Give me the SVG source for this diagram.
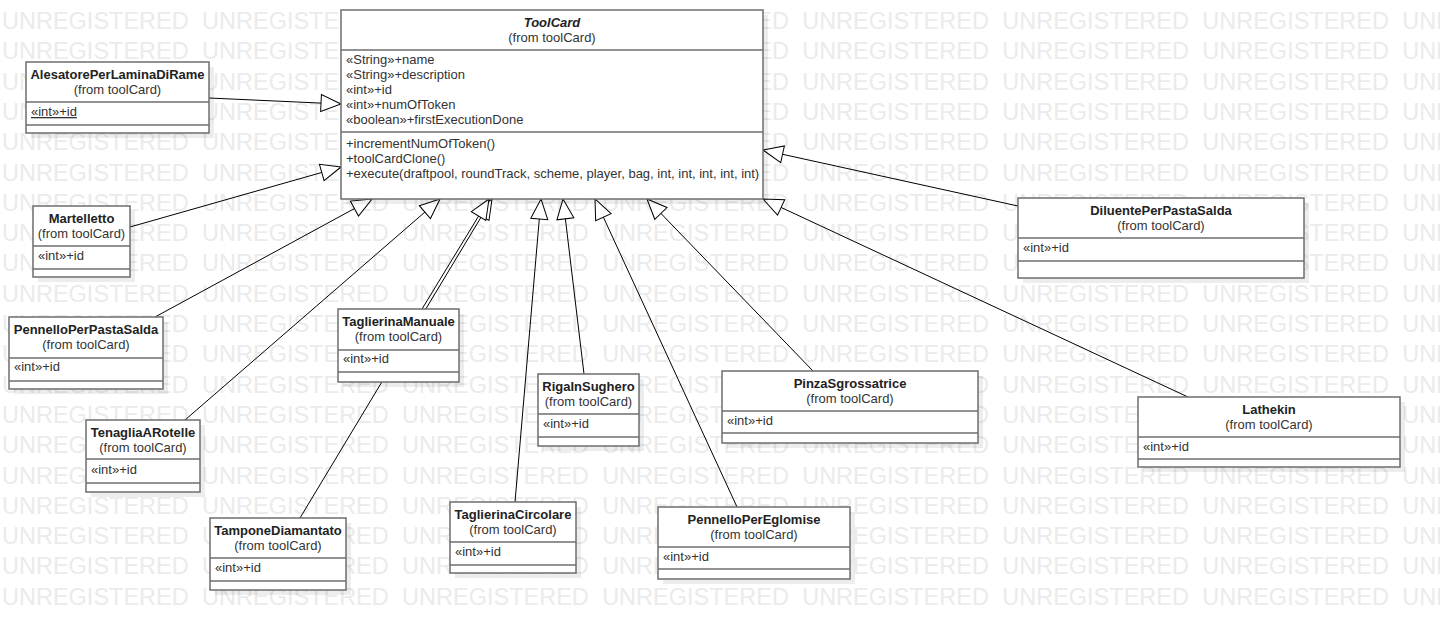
<svg xmlns="http://www.w3.org/2000/svg" width="1440" height="630" viewBox="0 0 1440 630">
<style>
.wm{font-family:"Liberation Sans",Arial,sans-serif;font-size:23.5px;fill:#ebebeb;word-spacing:6.8px}
.box{fill:#fff;stroke:#6e6e6e;stroke-width:1.5}
.sh{fill:#000;fill-opacity:0.07}
.dv{stroke:#6e6e6e;stroke-width:1.5}
.nm{font-family:"Liberation Sans",Arial,sans-serif;font-size:13px;font-weight:bold;fill:#222;text-anchor:middle}
.fr{font-family:"Liberation Sans",Arial,sans-serif;font-size:13px;fill:#333;text-anchor:middle}
.at{font-family:"Liberation Sans",Arial,sans-serif;font-size:13px;fill:#333}
.cn{stroke:#000;stroke-width:1;fill:none;marker-end:url(#gen)}
</style>
<defs>
<marker id="gen" markerUnits="userSpaceOnUse" viewBox="-22 -10 24 20" refX="0" refY="0" markerWidth="24" markerHeight="20" orient="auto">
<path d="M0,0 L-20,-8.5 L-20,8.5 Z" fill="#fff" stroke="#000" stroke-width="1"/>
</marker>
</defs>
<rect width="1440" height="630" fill="#fff"/>
<g id="watermark" class="wm">
<text x="2" y="29">UNREGISTERED UNREGISTERED UNREGISTERED UNREGISTERED UNREGISTERED UNREGISTERED UNREGISTERED UNREGISTERED</text>
<text x="2" y="59.3">UNREGISTERED UNREGISTERED UNREGISTERED UNREGISTERED UNREGISTERED UNREGISTERED UNREGISTERED UNREGISTERED</text>
<text x="2" y="89.6">UNREGISTERED UNREGISTERED UNREGISTERED UNREGISTERED UNREGISTERED UNREGISTERED UNREGISTERED UNREGISTERED</text>
<text x="2" y="119.9">UNREGISTERED UNREGISTERED UNREGISTERED UNREGISTERED UNREGISTERED UNREGISTERED UNREGISTERED UNREGISTERED</text>
<text x="2" y="150.2">UNREGISTERED UNREGISTERED UNREGISTERED UNREGISTERED UNREGISTERED UNREGISTERED UNREGISTERED UNREGISTERED</text>
<text x="2" y="180.5">UNREGISTERED UNREGISTERED UNREGISTERED UNREGISTERED UNREGISTERED UNREGISTERED UNREGISTERED UNREGISTERED</text>
<text x="2" y="210.8">UNREGISTERED UNREGISTERED UNREGISTERED UNREGISTERED UNREGISTERED UNREGISTERED UNREGISTERED UNREGISTERED</text>
<text x="2" y="241.1">UNREGISTERED UNREGISTERED UNREGISTERED UNREGISTERED UNREGISTERED UNREGISTERED UNREGISTERED UNREGISTERED</text>
<text x="2" y="271.4">UNREGISTERED UNREGISTERED UNREGISTERED UNREGISTERED UNREGISTERED UNREGISTERED UNREGISTERED UNREGISTERED</text>
<text x="2" y="301.7">UNREGISTERED UNREGISTERED UNREGISTERED UNREGISTERED UNREGISTERED UNREGISTERED UNREGISTERED UNREGISTERED</text>
<text x="2" y="332">UNREGISTERED UNREGISTERED UNREGISTERED UNREGISTERED UNREGISTERED UNREGISTERED UNREGISTERED UNREGISTERED</text>
<text x="2" y="362.3">UNREGISTERED UNREGISTERED UNREGISTERED UNREGISTERED UNREGISTERED UNREGISTERED UNREGISTERED UNREGISTERED</text>
<text x="2" y="392.6">UNREGISTERED UNREGISTERED UNREGISTERED UNREGISTERED UNREGISTERED UNREGISTERED UNREGISTERED UNREGISTERED</text>
<text x="2" y="422.9">UNREGISTERED UNREGISTERED UNREGISTERED UNREGISTERED UNREGISTERED UNREGISTERED UNREGISTERED UNREGISTERED</text>
<text x="2" y="453.2">UNREGISTERED UNREGISTERED UNREGISTERED UNREGISTERED UNREGISTERED UNREGISTERED UNREGISTERED UNREGISTERED</text>
<text x="2" y="483.5">UNREGISTERED UNREGISTERED UNREGISTERED UNREGISTERED UNREGISTERED UNREGISTERED UNREGISTERED UNREGISTERED</text>
<text x="2" y="513.8">UNREGISTERED UNREGISTERED UNREGISTERED UNREGISTERED UNREGISTERED UNREGISTERED UNREGISTERED UNREGISTERED</text>
<text x="2" y="544.1">UNREGISTERED UNREGISTERED UNREGISTERED UNREGISTERED UNREGISTERED UNREGISTERED UNREGISTERED UNREGISTERED</text>
<text x="2" y="574.4">UNREGISTERED UNREGISTERED UNREGISTERED UNREGISTERED UNREGISTERED UNREGISTERED UNREGISTERED UNREGISTERED</text>
<text x="2" y="604.7">UNREGISTERED UNREGISTERED UNREGISTERED UNREGISTERED UNREGISTERED UNREGISTERED UNREGISTERED UNREGISTERED</text>
</g>
<g id="connectors">
<line class="cn" x1="209" y1="98" x2="341" y2="104"/>
<line class="cn" x1="130" y1="227" x2="341" y2="167"/>
<line class="cn" x1="155" y1="317" x2="372" y2="199"/>
<line class="cn" x1="185" y1="420" x2="440" y2="199"/>
<line class="cn" x1="300" y1="518" x2="492" y2="199"/>
<line class="cn" x1="422" y1="309" x2="489" y2="199"/>
<line class="cn" x1="515" y1="502" x2="541" y2="199"/>
<line class="cn" x1="584" y1="374" x2="563" y2="199"/>
<line class="cn" x1="737" y1="507" x2="595" y2="199"/>
<line class="cn" x1="813" y1="371" x2="647" y2="199"/>
<line class="cn" x1="1188" y1="397" x2="763" y2="199"/>
<line class="cn" x1="1018" y1="206" x2="763" y2="150"/>
</g>
<g id="ToolCard">
<rect class="sh" x="346" y="15" width="422" height="189"/>
<rect class="box" x="341" y="10" width="422" height="189"/>
<line class="dv" x1="341" y1="50" x2="763" y2="50"/>
<line class="dv" x1="341" y1="132" x2="763" y2="132"/>
<text class="nm" x="552" y="27" font-style="italic">ToolCard</text>
<text class="fr" x="552" y="42">(from toolCard)</text>
<text class="at" x="346" y="64">«String»+name</text>
<text class="at" x="346" y="79">«String»+description</text>
<text class="at" x="346" y="94">«int»+id</text>
<text class="at" x="346" y="109">«int»+numOfToken</text>
<text class="at" x="346" y="124">«boolean»+firstExecutionDone</text>
<text class="at" x="346" y="148">+incrementNumOfToken()</text>
<text class="at" x="346" y="163">+toolCardClone()</text>
<text class="at" x="346" y="178">+execute(draftpool, roundTrack, scheme, player, bag, int, int, int, int, int)</text>
</g>
<g id="AlesatorePerLaminaDiRame">
<rect class="sh" x="31" y="67" width="183" height="71"/>
<rect class="box" x="26" y="62" width="183" height="71"/>
<line class="dv" x1="26" y1="102" x2="209" y2="102"/>
<line class="dv" x1="26" y1="125" x2="209" y2="125"/>
<text class="nm" x="117.5" y="79">AlesatorePerLaminaDiRame</text>
<text class="fr" x="117.5" y="94">(from toolCard)</text>
<text class="at" x="31" y="116" text-decoration="underline">«int»+id</text>
</g>
<g id="Martelletto">
<rect class="sh" x="38" y="211" width="97" height="71"/>
<rect class="box" x="33" y="206" width="97" height="71"/>
<line class="dv" x1="33" y1="246" x2="130" y2="246"/>
<line class="dv" x1="33" y1="269" x2="130" y2="269"/>
<text class="nm" x="81.5" y="223">Martelletto</text>
<text class="fr" x="81.5" y="238">(from toolCard)</text>
<text class="at" x="38" y="260">«int»+id</text>
</g>
<g id="PennelloPerPastaSalda">
<rect class="sh" x="14" y="322" width="154" height="72"/>
<rect class="box" x="9" y="317" width="154" height="72"/>
<line class="dv" x1="9" y1="358" x2="163" y2="358"/>
<line class="dv" x1="9" y1="381" x2="163" y2="381"/>
<text class="nm" x="86" y="334">PennelloPerPastaSalda</text>
<text class="fr" x="86" y="349">(from toolCard)</text>
<text class="at" x="14" y="371">«int»+id</text>
</g>
<g id="TenagliaARotelle">
<rect class="sh" x="91" y="425" width="114" height="72"/>
<rect class="box" x="86" y="420" width="114" height="72"/>
<line class="dv" x1="86" y1="459" x2="200" y2="459"/>
<line class="dv" x1="86" y1="483" x2="200" y2="483"/>
<text class="nm" x="143" y="437">TenagliaARotelle</text>
<text class="fr" x="143" y="452">(from toolCard)</text>
<text class="at" x="91" y="474">«int»+id</text>
</g>
<g id="TaglierinaManuale">
<rect class="sh" x="343" y="314" width="121" height="73"/>
<rect class="box" x="338" y="309" width="121" height="73"/>
<line class="dv" x1="338" y1="350" x2="459" y2="350"/>
<line class="dv" x1="338" y1="372" x2="459" y2="372"/>
<text class="nm" x="398.5" y="326">TaglierinaManuale</text>
<text class="fr" x="398.5" y="341">(from toolCard)</text>
<text class="at" x="343" y="363">«int»+id</text>
</g>
<g id="TamponeDiamantato">
<rect class="sh" x="215" y="523" width="136" height="72"/>
<rect class="box" x="210" y="518" width="136" height="72"/>
<line class="dv" x1="210" y1="558" x2="346" y2="558"/>
<line class="dv" x1="210" y1="581" x2="346" y2="581"/>
<text class="nm" x="278" y="535">TamponeDiamantato</text>
<text class="fr" x="278" y="550">(from toolCard)</text>
<text class="at" x="215" y="572">«int»+id</text>
</g>
<g id="TaglierinaCircolare">
<rect class="sh" x="455" y="507" width="126" height="71"/>
<rect class="box" x="450" y="502" width="126" height="71"/>
<line class="dv" x1="450" y1="542" x2="576" y2="542"/>
<line class="dv" x1="450" y1="565" x2="576" y2="565"/>
<text class="nm" x="513" y="519">TaglierinaCircolare</text>
<text class="fr" x="513" y="534">(from toolCard)</text>
<text class="at" x="455" y="556">«int»+id</text>
</g>
<g id="RigaInSughero">
<rect class="sh" x="543" y="379" width="101" height="72"/>
<rect class="box" x="538" y="374" width="101" height="72"/>
<line class="dv" x1="538" y1="414" x2="639" y2="414"/>
<line class="dv" x1="538" y1="437" x2="639" y2="437"/>
<text class="nm" x="588.5" y="391">RigaInSughero</text>
<text class="fr" x="588.5" y="406">(from toolCard)</text>
<text class="at" x="543" y="428">«int»+id</text>
</g>
<g id="PennelloPerEglomise">
<rect class="sh" x="663" y="512" width="192" height="72"/>
<rect class="box" x="658" y="507" width="192" height="72"/>
<line class="dv" x1="658" y1="547" x2="850" y2="547"/>
<line class="dv" x1="658" y1="569" x2="850" y2="569"/>
<text class="nm" x="754" y="524">PennelloPerEglomise</text>
<text class="fr" x="754" y="539">(from toolCard)</text>
<text class="at" x="663" y="561">«int»+id</text>
</g>
<g id="PinzaSgrossatrice">
<rect class="sh" x="727" y="376" width="256" height="72"/>
<rect class="box" x="722" y="371" width="256" height="72"/>
<line class="dv" x1="722" y1="411" x2="978" y2="411"/>
<line class="dv" x1="722" y1="433" x2="978" y2="433"/>
<text class="nm" x="850" y="388">PinzaSgrossatrice</text>
<text class="fr" x="850" y="403">(from toolCard)</text>
<text class="at" x="727" y="425">«int»+id</text>
</g>
<g id="Lathekin">
<rect class="sh" x="1143" y="402" width="262" height="70"/>
<rect class="box" x="1138" y="397" width="262" height="70"/>
<line class="dv" x1="1138" y1="437" x2="1400" y2="437"/>
<line class="dv" x1="1138" y1="459" x2="1400" y2="459"/>
<text class="nm" x="1269" y="414">Lathekin</text>
<text class="fr" x="1269" y="429">(from toolCard)</text>
<text class="at" x="1143" y="451">«int»+id</text>
</g>
<g id="DiluentePerPastaSalda">
<rect class="sh" x="1023" y="203" width="286" height="80"/>
<rect class="box" x="1018" y="198" width="286" height="80"/>
<line class="dv" x1="1018" y1="238" x2="1304" y2="238"/>
<line class="dv" x1="1018" y1="261" x2="1304" y2="261"/>
<text class="nm" x="1161" y="215">DiluentePerPastaSalda</text>
<text class="fr" x="1161" y="230">(from toolCard)</text>
<text class="at" x="1023" y="252">«int»+id</text>
</g>
</svg>
